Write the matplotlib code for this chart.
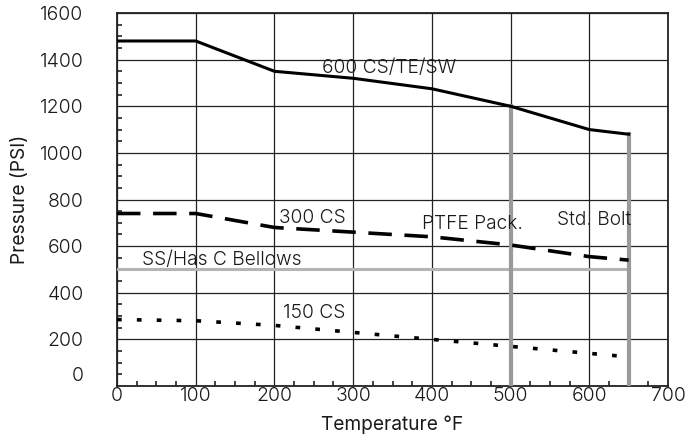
import matplotlib
matplotlib.use("Agg")
import matplotlib.pyplot as plt
from matplotlib.ticker import MultipleLocator
from matplotlib.transforms import ScaledTranslation

plt.rcParams['font.family'] = ['Inter', 'DejaVu Sans']
plt.rcParams['font.weight'] = 300

# pressure ratings (PSI) against temperature (deg F)
temps = [0, 100, 200, 300, 400, 500, 600, 650]
cs600 = [1480, 1480, 1350, 1320, 1275, 1200, 1100, 1080]
cs300 = [740, 740, 680, 660, 640, 605, 555, 540]
cs150 = [285, 280, 260, 230, 200, 170, 140, 125]

bellows_temps = [0, 650]
bellows_psi = [500, 500]

# vertical limits: PTFE packing and standard bolting
ptfe_temp, ptfe_top = 500, 1200
bolt_temp, bolt_top = 650, 1080

yticks = [0, 200, 400, 600, 800, 1000, 1200, 1400, 1600]
xticks = [0, 100, 200, 300, 400, 500, 600, 700]

labels = [
    ("600 CS/TE/SW", 260, 1365),
    ("300 CS", 206, 721),
    ("PTFE Pack.", 387, 697),
    ("Std. Bolt", 559, 712),
    ("SS/Has C Bellows", 32, 540),
    ("150 CS", 211, 313),
]

fig = plt.figure(figsize=(6.85, 4.38), dpi=100)
ax = fig.add_axes([0.1708, 0.1187, 0.8044, 0.8516])

gray = '#9a9a9a'
ax.plot(bellows_temps, bellows_psi, color='#b4b4b4', lw=2.2, zorder=3)
ax.plot([ptfe_temp, ptfe_temp], [0, ptfe_top], color=gray, lw=3, zorder=3)
ax.plot([bolt_temp, bolt_temp], [0, bolt_top], color=gray, lw=3, zorder=3)

ax.plot(temps, cs600, color='black', lw=2.2, zorder=4)
ax.plot(temps, cs300, color='black', lw=2.6, dashes=(6.5, 3.5),
        dash_capstyle='butt', zorder=4)
ax.plot(temps, cs150, color='black', lw=2.6, dashes=(1.3, 4.2),
        dash_capstyle='butt', zorder=4)

for txt, x, y in labels:
    ax.text(x, y, txt, fontsize=13.8, ha='left', va='center', color='#1a1a1a', zorder=5)

ax.set_xlim(0, 700)
ax.set_ylim(0, 1600)
ax.set_xticks(xticks)
ax.set_yticks(yticks)
ax.xaxis.set_minor_locator(MultipleLocator(25))
ax.yaxis.set_minor_locator(MultipleLocator(50))
ax.tick_params(which='both', direction='in', labelsize=14, color='#222222',
               labelcolor='#1a1a1a')
ax.tick_params(which='major', length=0)
ax.tick_params(which='minor', length=3.5, width=1.2)
ax.tick_params(axis='x', pad=1)
ax.tick_params(axis='y', pad=24)
ax.grid(True, which='major', color='#222222', lw=0.9, zorder=1)
ax.set_axisbelow(True)
for s in ax.spines.values():
    s.set_color('#222222')
    s.set_linewidth(1.3)

# the zero label sits a little above the bottom axis
lab0 = ax.get_yticklabels()[0]
lab0.set_transform(lab0.get_transform() + ScaledTranslation(0, 12 / 100, fig.dpi_scale_trans))

ax.set_xlabel('Temperature °F', fontsize=13.8, labelpad=7, color='#1a1a1a')
ax.set_ylabel('Pressure (PSI)', fontsize=13.8, labelpad=8, color='#1a1a1a')

fig.savefig('out.png', dpi=100)
